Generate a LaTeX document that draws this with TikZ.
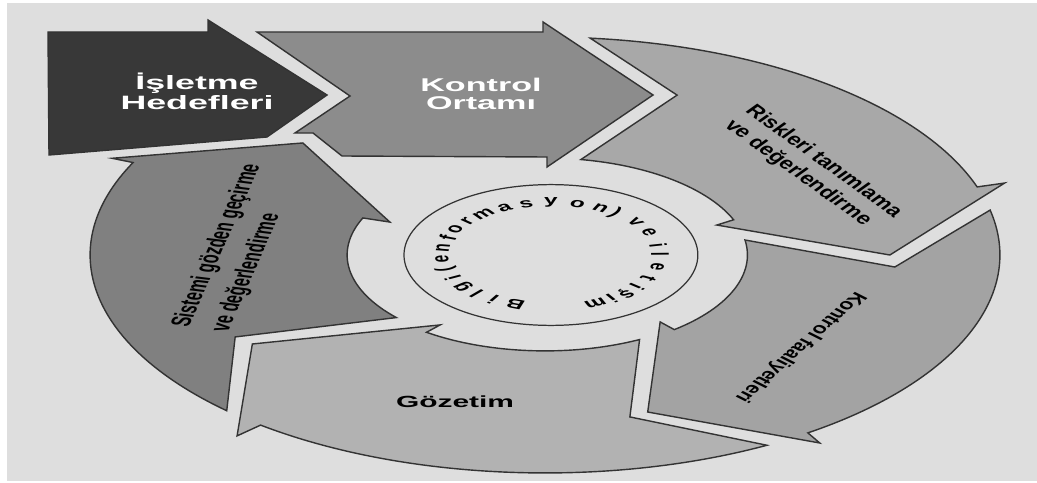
\documentclass[tikz,border=0pt]{standalone}
\usepackage{fontspec}
\setmainfont{Liberation Sans}
\begin{document}
\begin{tikzpicture}[x=0.02cm, y=-0.02cm]
        \tikzstyle{outline}=[draw=black!80, line width=0.8pt, line join=miter]
        \tikzstyle{headtext}=[text=white, font=\fontsize{11}{11.5}\selectfont\bfseries, align=center, xscale=1.85]
        \tikzstyle{ringtext}=[font=\fontsize{8.5}{12}\selectfont\bfseries, align=left, inner sep=1pt]
        \tikzstyle{infochar}=[font=\fontsize{7.5}{9}\selectfont\bfseries, inner sep=0pt, xscale=1.85]

        \useasboundingbox (0,0) rectangle (1037,483);
        \fill[white] (0,0) rectangle (1037,483);
        \fill[black!13] (7,3) rectangle (1037,481);

% straight arrows at the top left
        \draw[outline, fill=black!78] (48,32) -- (208,32) -- (208,20) -- (327,95) -- (267,137) -- (49,155) -- cycle;
        \draw[outline, fill=black!45] (257,32) -- (543,32) -- (543,22) -- (653,95) -- (547,167) -- (547,157) -- (342,156) -- (313,133) -- (295,133) -- (350,96) -- cycle;
        \node[headtext] (hedef) at (197,91) {İşletme\\Hedefleri};
        \node[headtext, font=\fontsize{10.5}{10.5}\selectfont\bfseries] (ortam) at (481,94) {Kontrol\\Ortamı};

% the ring of four arrows, angles on the squashed circle
        \begin{scope}[shift={(545,255)}, x=9.1cm, y=4.36cm]
        \draw[outline, fill=black!34] (84.3:1) arc[start angle=84.3, end angle=18.2, radius=1] -- (18.1:1.063) -- (0:0.758) -- (20:0.402) -- (21.3:0.445) arc[start angle=21.3, end angle=79.8, radius=0.445] -- (68.4:0.789) -- cycle;
        \draw[outline, fill=black!36] (11.9:1) arc[start angle=11.9, end angle=-54.7, radius=1] -- (-55:1.053) -- (-72.6:0.755) -- (-50.5:0.398) -- (-50.3:0.445) arc[start angle=-50.3, end angle=8.9, radius=0.445] -- (-4.1:0.771) -- cycle;
        \draw[outline, fill=black!30] (-60.8:1) arc[start angle=-60.8, end angle=-128.7, radius=1] -- (-129.2:1.071) -- (-147.6:0.762) -- (-125.7:0.395) -- (-126.3:0.44) arc[start angle=-126.3, end angle=-61.8, radius=0.44] -- (-75.9:0.766) -- cycle;
        \draw[outline, fill=black!50] (225.6:1) arc[start angle=225.6, end angle=154.9, radius=1] -- (155:1.05) -- (136:0.74) -- (156.1:0.373) -- (157:0.435) arc[start angle=157, end angle=221.3, radius=0.435] -- (208.9:0.778) -- cycle;

        \begin{scope}[shift={(0.013,0)}]
        \draw[outline, line width=0.7pt] (0,0) circle[radius=0.323];
        \foreach \ch/\ang in {B/251, i/238, l/227, g/217, i/206, {(}/196, e/184, n/172, f/161, o/151, r/140, m/128, a/115, s/103, y/90, o/76, n/63, {)}/54, v/39, e/26, i/11, l/1, e/-13, t/-27, i/-38, ş/-47, i/-56, m/-66}
            \node[infochar, rotate=\ang-90] (ch\ang) at (\ang:0.24) {\ch};
        \end{scope}
        \end{scope}

        \node[ringtext, font=\fontsize{9.7}{12}\selectfont\bfseries, xscale=1.4, rotate=-45] (risk) at (813,169) {Riskleri tanımlama\\ve değerlendirme};
        \node[ringtext, font=\fontsize{8.7}{12}\selectfont\bfseries, xscale=1.5, rotate=-127] (faal) at (800,347) {Kontrol faaliyetleri};
        \node[headtext, text=black, font=\fontsize{9.2}{11}\selectfont\bfseries] (gozetim) at (455,402) {Gözetim};
        \node[ringtext, font=\fontsize{8.3}{12}\selectfont\bfseries, xscale=1.9, rotate=77] (sistem) at (237,248) {Sistemi gözden geçirme\\ve değerlendirme};

    \end{tikzpicture}
\end{document}
